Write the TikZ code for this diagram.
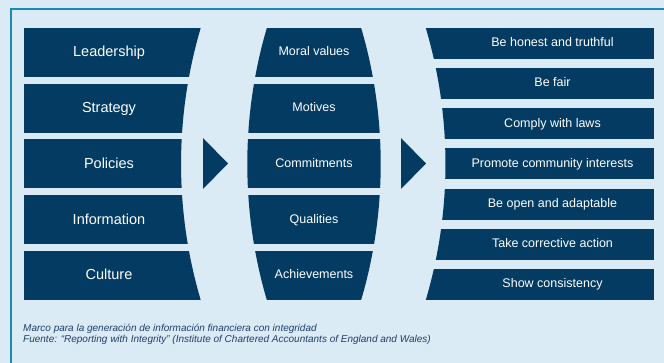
\documentclass[tikz,border=0pt]{standalone}
\usepackage{fontspec}
\setmainfont{Liberation Sans}
\definecolor{navy}{HTML}{033B62}
\definecolor{frameblue}{HTML}{1A8CB3}
\definecolor{paleblue}{HTML}{DAEBF5}
\definecolor{notecolor}{HTML}{1F3F68}

\begin{document}
\begin{tikzpicture}[x=1pt,y=1pt]
        \tikzstyle{big}=[text=white,inner sep=0pt,text height=10.4pt,text depth=0pt,font=\fontsize{14.5}{17}\selectfont]
        \tikzstyle{small}=[text=white,inner sep=0pt,text height=9pt,text depth=0pt,font=\fontsize{12.5}{15}\selectfont]
        \tikzstyle{note}=[anchor=base west,inner sep=0pt,text=notecolor,font=\fontsize{10}{11}\selectfont\itshape]
        \useasboundingbox[fill=paleblue] (0,0) rectangle (664,363);
        \draw[frameblue,line width=2pt] (664,353.7) -- (10.8,353.7) -- (10.8,0);
        % left column
        \begin{scope}
                \clip (24,335) -- (200.7,335) arc[start angle=163.54,end angle=196.46,radius=480] -- (24,63) -- cycle;
                \foreach \i in {0,...,4}
                        \fill[navy] (24,{335-55.75*\i}) rectangle (210,{286-55.75*\i});
        \end{scope}
        % middle column
        \begin{scope}
                \clip (727.3,199) circle[radius=480];
                \clip (-99.3,199) circle[radius=480];
                \foreach \i in {0,...,4}
                        \fill[navy] (240,{335-55.75*\i}) rectangle (390,{286-55.75*\i});
        \end{scope}
        % right column
        \begin{scope}
                \clip (654,335) -- (425.8,335) arc[start angle=16.46,end angle=-16.46,radius=480] -- (654,63) -- cycle;
                \foreach \i in {0,...,6}
                        \fill[navy] (420,{335-40.1667*\i}) rectangle (654,{304-40.1667*\i});
        \end{scope}
        % arrows
        \fill[navy] (203,225) -- (228,199.5) -- (203,174) -- cycle;
        \fill[navy] (401,225) -- (426,199.5) -- (401,174) -- cycle;
        % labels
        \foreach \i/\txt in {0/Leadership,1/Strategy,2/Policies,3/Information,4/Culture}
                \node[big] (lft\i) at (109,{311.3-55.75*\i}) {\txt};
        \foreach \i/\txt in {0/Moral values,1/Motives,2/Commitments,3/Qualities,4/Achievements}
                \node[small] (mid\i) at (314,{311.7-55.75*\i}) {\txt};
        \foreach \i/\txt in {0/Be honest and truthful,1/Be fair,2/Comply with laws,3/Promote community interests,4/Be open and adaptable,5/Take corrective action,6/Show consistency}
                \node[small] (rgt\i) at (552.5,{320.7-40.1667*\i}) {\txt};
        \node[note] (note1) at (23,31) {Marco para la generación de información financiera con integridad};
        \node[note] (note2) at (23,20) {Fuente: “Reporting with Integrity” (Institute of Chartered Accountants of England and Wales)};
\end{tikzpicture}
\end{document}
